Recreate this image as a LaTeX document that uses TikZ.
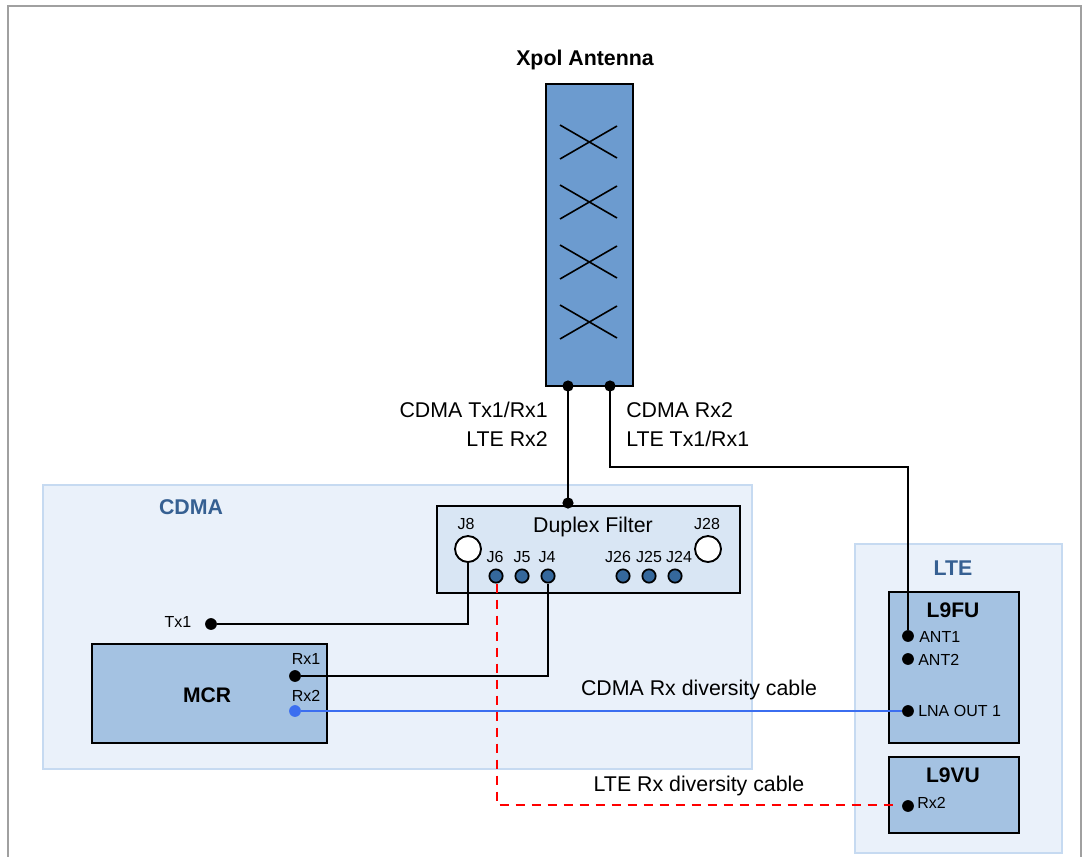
\documentclass[tikz,border=0pt]{standalone}
\usepackage{fontspec}
\setmainfont{Liberation Sans}
\usetikzlibrary{calc}
\definecolor{regionfill}{HTML}{EAF1FA}
\definecolor{regionline}{HTML}{C6DAF1}
\definecolor{filterfill}{HTML}{D9E6F4}
\definecolor{unitfill}{HTML}{A4C2E2}
\definecolor{antfill}{HTML}{6C9BCF}
\definecolor{portfill}{HTML}{35689C}
\definecolor{headcol}{HTML}{366092}
\definecolor{bluecable}{HTML}{3B6EF0}
\definecolor{framecol}{HTML}{A0A0A0}
\tikzstyle{region}=[draw=regionline,fill=regionfill,line width=1.5pt]
\tikzstyle{unit}=[draw=black,fill=unitfill,line width=1.5pt]
\tikzstyle{vertex}=[circle,fill=black,minimum size=8.8pt,inner sep=0pt]
\tikzstyle{bigport}=[circle,draw=black,fill=white,line width=1.4pt,minimum size=19.5pt,inner sep=0pt]
\tikzstyle{port}=[circle,draw=black,fill=portfill,line width=1.3pt,minimum size=10pt,inner sep=0pt]
\tikzstyle{edge}=[draw,line width=1.4pt,-]
\tikzstyle{cable}=[font=\fontsize{16}{18}\selectfont,inner sep=0pt]
\tikzstyle{small}=[font=\fontsize{12}{14}\selectfont,inner sep=0pt]
\tikzstyle{unitname}=[font=\fontsize{15.8}{18}\selectfont\bfseries,inner sep=0pt]
\tikzstyle{regionname}=[font=\fontsize{16}{18}\selectfont\bfseries,text=headcol,inner sep=0pt]
\begin{document}
\begin{tikzpicture}[x=0.75pt,y=-0.75pt]
      \useasboundingbox (0,0) rectangle (1082,857);
      \draw[framecol,line width=1.5pt] (8,857) -- (8,6) -- (1081,6) -- (1081,857);

      % regions
      \path[region] (43,485) rectangle (752,769);
      \path[region] (855,544) rectangle (1062,853);
      \node[regionname] (cdma) at (191,507) {CDMA};
      \node[regionname] (lte) at (953,568) {LTE};

      % antenna
      \path[draw=black,fill=antfill,line width=1.5pt] (546,84) rectangle (633,386);
      \foreach \y in {142,202,262,322}{
        \draw[line width=1.2pt] (560,\y-17) -- (617,\y+16);
        \draw[line width=1.2pt] (560,\y+17) -- (617,\y-16);
      }
      \node[inner sep=0pt,font=\fontsize{16}{18}\selectfont\bfseries] (xpol) at (585,60) {Xpol Antenna};

      % boxes
      \path[draw=black,fill=filterfill,line width=1.5pt] (437,506) rectangle (740,593);
      \path[unit] (92,644) rectangle (327,743);
      \path[unit] (889,592) rectangle (1019,743);
      \path[unit] (889,757) rectangle (1019,833);

      % wires go under the ports
      \coordinate (antA) at (568,386);
      \coordinate (antB) at (610,386);
      \coordinate (duptop) at (568,503);
      \node[vertex] (txone) at (211,624) {};
      \node[vertex] (mcrone) at (295,676) {};
      \node[vertex] (antone) at (908,636) {};
      \node[vertex] (anttwo) at (908,659) {};
      \node[vertex] (lnaout) at (908,711) {};
      \node[vertex] (vurx) at (908,806) {};
      \node[circle,fill=bluecable,minimum size=8.8pt,inner sep=0pt] (mcrtwo) at (295,711) {};
      \foreach \x/\id in {468/J8,708/J28}{
        \node[bigport] (\id) at (\x,549) {};
      }
      \foreach \x/\id in {496/J6,522/J5,548/J4,623/J26,649/J25,675/J24}{
        \node[port] (\id) at (\x,576) {};
      }

      \path[edge] (antA) -- (duptop);
      \path[edge] (antB) -- (610,467) -| (antone);
      \path[edge] (txone) -| (J8);
      \path[edge] (mcrone) -| (J4);
      \draw[bluecable,line width=1.4pt] (mcrtwo) -- (lnaout);
      \draw[red,line width=1.4pt,dash pattern=on 7pt off 5pt] ($(J6.south)+(1,0)$) -- (497,805) -- ($(vurx.west)+(-9,-1)$);
      \foreach \c in {antA,antB,duptop}{
        \fill (\c) circle (5.6);
      }

      % port labels
      \foreach \x/\y/\id in {466/524/J8,707/524/J28,495/557/J6,522/557/J5,547/557/J4,618/557/J26,649/557/J25,679/557/J24}{
        \node[small] (lab\id) at (\x,\y) {\id};
      }
      \node[inner sep=0pt,font=\fontsize{16}{18}\selectfont] (duplex) at (593,527) {Duplex Filter};

      % cable and unit labels
      \node[cable,align=right,anchor=north east,font=\fontsize{16}{21.7}\selectfont] (leftlab) at (548,402) {CDMA Tx1/Rx1\\LTE Rx2};
      \node[cable,align=left,anchor=north west,font=\fontsize{16}{21.7}\selectfont] (rightlab) at (626,402) {CDMA Rx2\\LTE Tx1/Rx1};
      \node[cable] (blue) at (699,690) {CDMA Rx diversity cable};
      \node[cable] (redlab) at (699,786) {LTE Rx diversity cable};
      \node[small] (txlab) at (178,622) {Tx1};
      \node[small] (rxone) at (306,659) {Rx1};
      \node[small] (rxtwo) at (306,696) {Rx2};
      \node[unitname] (mcr) at (207,695) {MCR};
      \node[unitname] (fu) at (953,610) {L9FU};
      \node[unitname] (vu) at (953,775) {L9VU};
      \node[small,anchor=west] (ant1) at (919,637) {ANT1};
      \node[small,anchor=west] (ant2) at (918,660) {ANT2};
      \node[small,anchor=west] (lna) at (918,711) {LNA OUT 1};
      \node[small,anchor=west] (rxvu) at (917,803) {Rx2};
\end{tikzpicture}
\end{document}
